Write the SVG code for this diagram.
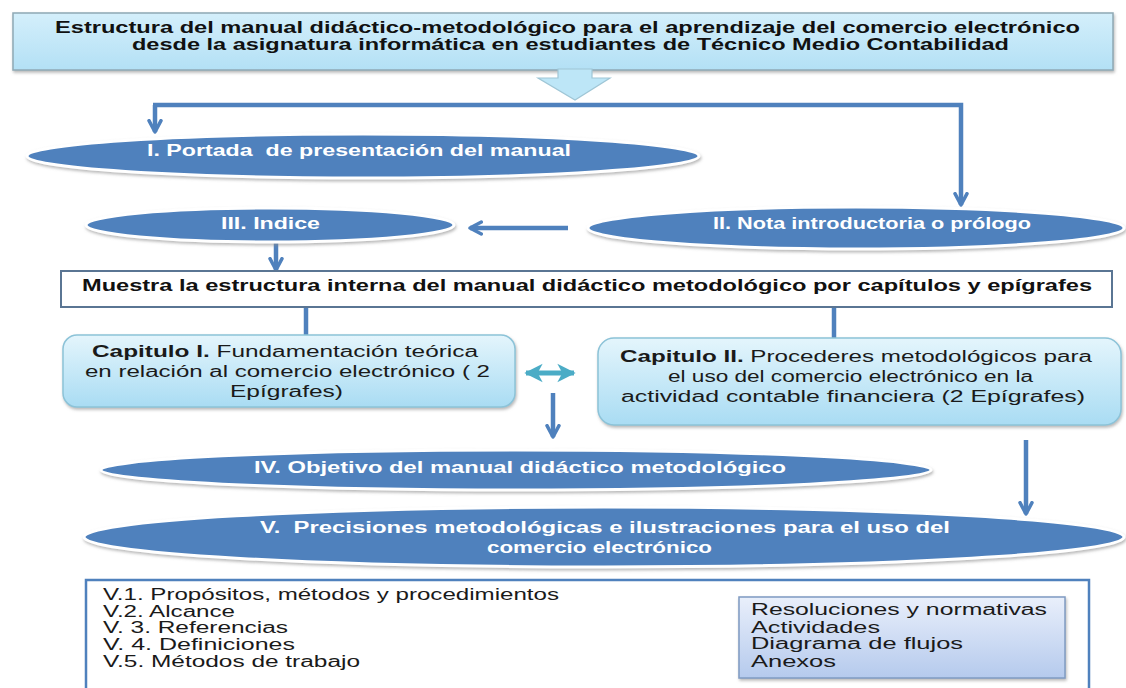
<svg xmlns="http://www.w3.org/2000/svg" width="1126" height="688" viewBox="0 0 1126 688">
<defs>
<linearGradient id="gTitle" x1="0" y1="0" x2="0" y2="1">
<stop offset="0" stop-color="#d4effb"/><stop offset="1" stop-color="#b3e0f5"/>
</linearGradient>
<linearGradient id="gCap" x1="0" y1="0" x2="0" y2="1">
<stop offset="0" stop-color="#e4f5fc"/><stop offset="1" stop-color="#a9dcf3"/>
</linearGradient>
<linearGradient id="gRes" x1="0" y1="0" x2="0" y2="1">
<stop offset="0" stop-color="#e9effb"/><stop offset="1" stop-color="#b5caed"/>
</linearGradient>
<filter id="sh" x="-5%" y="-30%" width="110%" height="170%">
<feDropShadow dx="1" dy="2" stdDeviation="1.5" flood-color="#8a8a8a" flood-opacity="0.6"/>
</filter>
<marker id="ah" viewBox="0 0 12 12" refX="10" refY="6" markerWidth="16" markerHeight="16" markerUnits="userSpaceOnUse" orient="auto">
<path d="M1.5,1.5 L10,6 L1.5,10.5" fill="none" stroke="#4f81bd" stroke-width="2.6" stroke-linecap="round" stroke-linejoin="round"/>
</marker>
<marker id="ahT" viewBox="0 0 12 12" refX="10" refY="6" markerWidth="20" markerHeight="20" markerUnits="userSpaceOnUse" orient="auto-start-reverse">
<path d="M0,0.5 L11,6 L0,11.5 L3,6 Z" fill="#4bacc6"/>
</marker>
<style>
.ell{fill:#4f81bd;stroke:#ffffff;stroke-width:3;filter:url(#sh)}
.et{font-family:"Liberation Sans",Arial,sans-serif;font-weight:bold;font-size:16px;fill:#ffffff}
.bt{font-family:"Liberation Sans",Arial,sans-serif;font-weight:bold;font-size:16px;fill:#111111}
.nt{font-family:"Liberation Sans",Arial,sans-serif;font-size:16px;fill:#1a1a1a}
.b{font-weight:bold}
.con{fill:none;stroke:#4f81bd;stroke-width:4.5}
</style>
</defs>
<rect width="1126" height="688" fill="#ffffff"/>

<g id="title">
<rect x="13" y="13" width="1100" height="57" fill="url(#gTitle)" stroke="#8fa9b5" stroke-width="1.5" filter="url(#sh)"/>
<text class="bt" x="55" y="33" textLength="1025" lengthAdjust="spacingAndGlyphs">Estructura del manual didáctico-metodológico para el aprendizaje del comercio electrónico</text>
<text class="bt" x="132" y="50" textLength="877" lengthAdjust="spacingAndGlyphs">desde la asignatura informática en estudiantes de Técnico Medio Contabilidad</text>
</g>

<g id="blockArrow">
<path d="M558,69 L592,69 L592,78 L610,78 L575,100 L538,78 L558,78 Z" fill="#bde6f7" stroke="#9fc6d6" stroke-width="1.2"/>
</g>

<g id="connectors">
<path class="con" d="M155,105 L155,132" marker-end="url(#ah)"/>
<path class="con" d="M153,105 L961,105 L961,205" marker-end="url(#ah)"/>
<path class="con" d="M568,228 L470,228" marker-end="url(#ah)"/>
<path class="con" d="M276,243 L276,270" marker-end="url(#ah)"/>
<path class="con" d="M306,307 L306,335"/>
<path class="con" d="M834,307 L834,338"/>
<path d="M526,373 L574,373" fill="none" stroke="#4bacc6" stroke-width="5" marker-start="url(#ahT)" marker-end="url(#ahT)"/>
<path class="con" d="M553,393 L553,437" marker-end="url(#ah)"/>
<path class="con" d="M1026,440 L1026,514" marker-end="url(#ah)"/>
<path class="con" d="M371,678 L616,678 L616,622 L714,622" marker-end="url(#ah)"/>
</g>

<g id="portada">
<ellipse class="ell" cx="363" cy="156" rx="336" ry="22"/>
<text class="et" x="147" y="156" textLength="424" lengthAdjust="spacingAndGlyphs" xml:space="preserve">I. Portada  de presentación del manual</text>
</g>

<g id="indice">
<ellipse class="ell" cx="270" cy="225" rx="184" ry="17"/>
<text class="et" x="221" y="229" textLength="99" lengthAdjust="spacingAndGlyphs">III. Indice</text>
</g>

<g id="nota">
<ellipse class="ell" cx="856" cy="228" rx="268" ry="21"/>
<text class="et" x="713" y="229" textLength="318" lengthAdjust="spacingAndGlyphs">II. Nota introductoria o prólogo</text>
</g>

<g id="muestra">
<rect x="61" y="271" width="1051" height="36" fill="#ffffff" stroke="#5a7593" stroke-width="2"/>
<text class="bt" x="82" y="291" textLength="1010" lengthAdjust="spacingAndGlyphs">Muestra la estructura interna del manual didáctico metodológico por capítulos y epígrafes</text>
</g>

<g id="capI">
<rect x="63" y="335" width="452" height="72" rx="14" fill="url(#gCap)" stroke="#8cc3d8" stroke-width="1.5" filter="url(#sh)"/>
<text class="nt" x="92" y="357" textLength="386" lengthAdjust="spacingAndGlyphs"><tspan class="b">Capitulo I.</tspan> Fundamentación teórica</text>
<text class="nt" x="85" y="377" textLength="405" lengthAdjust="spacingAndGlyphs">en relación al comercio electrónico ( 2</text>
<text class="nt" x="230" y="397" textLength="113" lengthAdjust="spacingAndGlyphs">Epígrafes)</text>
</g>

<g id="capII">
<rect x="598" y="338" width="523" height="87" rx="16" fill="url(#gCap)" stroke="#8cc3d8" stroke-width="1.5" filter="url(#sh)"/>
<text class="nt" x="620" y="362" textLength="472" lengthAdjust="spacingAndGlyphs"><tspan class="b">Capitulo II.</tspan> Procederes metodológicos para</text>
<text class="nt" x="668" y="382" textLength="365" lengthAdjust="spacingAndGlyphs">el uso del comercio electrónico en la</text>
<text class="nt" x="621" y="402" textLength="464" lengthAdjust="spacingAndGlyphs">actividad contable financiera (2 Epígrafes)</text>
</g>

<g id="objetivo">
<ellipse class="ell" cx="516" cy="470" rx="415" ry="20"/>
<text class="et" x="254" y="473" textLength="532" lengthAdjust="spacingAndGlyphs">IV. Objetivo del manual didáctico metodológico</text>
</g>

<g id="precisiones">
<ellipse class="ell" cx="604" cy="537" rx="520" ry="30"/>
<text class="et" x="260" y="533" textLength="690" lengthAdjust="spacingAndGlyphs" xml:space="preserve">V.  Precisiones metodológicas e ilustraciones para el uso del</text>
<text class="et" x="487" y="553" textLength="225" lengthAdjust="spacingAndGlyphs">comercio electrónico</text>
</g>

<g id="lista">
<rect x="86" y="580" width="1003" height="130" fill="#ffffff" stroke="#4f81bd" stroke-width="2.5"/>
<text class="nt" x="103" y="600" textLength="456" lengthAdjust="spacingAndGlyphs">V.1. Propósitos, métodos y procedimientos</text>
<text class="nt" x="103" y="617" textLength="132" lengthAdjust="spacingAndGlyphs">V.2. Alcance</text>
<text class="nt" x="103" y="633" textLength="185" lengthAdjust="spacingAndGlyphs">V. 3. Referencias</text>
<text class="nt" x="103" y="650" textLength="192" lengthAdjust="spacingAndGlyphs">V. 4. Definiciones</text>
<text class="nt" x="103" y="667" textLength="257" lengthAdjust="spacingAndGlyphs">V.5. Métodos de trabajo</text>
</g>

<g id="resoluciones">
<rect x="739" y="597" width="326" height="81" fill="url(#gRes)" stroke="#7f9bc2" stroke-width="1.5" filter="url(#sh)"/>
<text class="nt" x="751" y="615" textLength="296" lengthAdjust="spacingAndGlyphs">Resoluciones y normativas</text>
<text class="nt" x="751" y="633" textLength="129" lengthAdjust="spacingAndGlyphs">Actividades</text>
<text class="nt" x="751" y="649" textLength="212" lengthAdjust="spacingAndGlyphs">Diagrama de flujos</text>
<text class="nt" x="751" y="667" textLength="85" lengthAdjust="spacingAndGlyphs">Anexos</text>
</g>
</svg>
